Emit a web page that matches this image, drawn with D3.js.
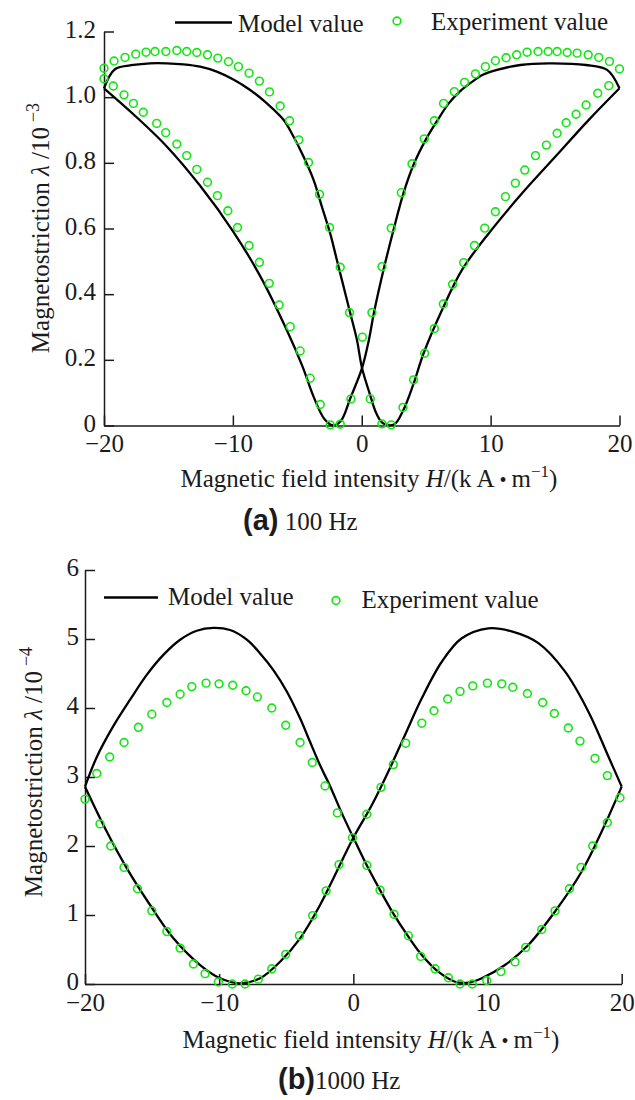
<!DOCTYPE html>
<html>
<head>
<meta charset="utf-8">
<script src="https://cdn.jsdelivr.net/npm/d3@7"></script>
<style>
  html, body { margin: 0; padding: 0; background: #fff; }
  svg { display: block; }
</style>
</head>
<body>
<svg id="fig" width="635" height="1100"></svg>
<script>
// ---------------- data ----------------
const hTicks = [-20, -10, 0, 10, 20];
const aLambdaTicks = [0, 0.2, 0.4, 0.6, 0.8, 1.0, 1.2];
const bLambdaTicks = [0, 1, 2, 3, 4, 5, 6];

// (a) 100 Hz, model: branch traced while H increases
const aModelRiseH = [-20, -17.72, -15.13, -12.54, -9.96, -7.88, -5.81, -4.6, -3.74, -2.9, -2.2, -1.6, -0.89, 0.02, 0.55, 0.95, 1.75, 2.5, 3.25, 4.05, 5.0, 5.85, 6.75, 7.6, 8.5, 9.4, 10.5, 12.3, 14.5, 17.4, 19.04, 20];
const aModelRiseL = [1.027, 0.948, 0.85, 0.73, 0.59, 0.455, 0.29, 0.18, 0.088, 0.02, 0.0, 0.015, 0.083, 0.175, 0.26, 0.344, 0.484, 0.601, 0.709, 0.797, 0.873, 0.928, 0.981, 1.017, 1.045, 1.068, 1.083, 1.098, 1.103, 1.098, 1.083, 1.027];
// (a) 100 Hz, model: branch traced while H decreases
const aModelFallH = [20, 17.6, 15.03, 12.44, 9.85, 7.78, 6.23, 4.8, 4.0, 3.2, 2.5, 1.65, 1.13, 0.61, 0.02, -0.37, -0.89, -1.41, -1.93, -2.45, -3.09, -3.74, -4.52, -5.3, -6.07, -7.36, -8.66, -9.96, -11.25, -12.54, -13.84, -15.13, -16.43, -17.72, -19.15, -20];
const aModelFallL = [1.027, 0.93, 0.819, 0.707, 0.585, 0.474, 0.352, 0.22, 0.125, 0.045, 0.003, 0.007, 0.037, 0.098, 0.175, 0.26, 0.342, 0.423, 0.504, 0.585, 0.666, 0.748, 0.819, 0.88, 0.931, 0.981, 1.022, 1.054, 1.078, 1.093, 1.1, 1.103, 1.103, 1.098, 1.085, 1.027];

// (a) 100 Hz, measurements
const aExpRiseH = [-20, -19.28, -18.45, -17.72, -16.95, -15.91, -15.21, -14.35, -13.58, -12.8, -11.97, -11.2, -10.39, -9.64, -8.74, -7.94, -7.18, -6.41, -5.55, -4.78, -4.0, -3.22, -2.45, -1.67, -0.84, 0.05, 0.79, 1.57, 2.29, 3.07, 3.9, 4.85, 5.63, 6.35, 7.18, 7.98, 8.82, 9.59, 10.37, 11.2, 12.02, 12.83, 13.68, 14.46, 15.16, 15.94, 16.71, 17.57, 18.39, 19.22, 20];
const aExpRiseL = [1.056, 1.034, 1.007, 0.981, 0.954, 0.92, 0.892, 0.857, 0.822, 0.78, 0.741, 0.7, 0.654, 0.603, 0.548, 0.497, 0.433, 0.367, 0.301, 0.227, 0.144, 0.064, 0.002, 0.004, 0.081, 0.269, 0.344, 0.484, 0.601, 0.709, 0.797, 0.873, 0.928, 0.981, 1.017, 1.045, 1.071, 1.093, 1.111, 1.12, 1.129, 1.137, 1.139, 1.139, 1.139, 1.136, 1.134, 1.129, 1.121, 1.109, 1.086];
const aExpFallH = [19.17, 18.31, 17.41, 16.63, 15.86, 15.16, 14.33, 13.48, 12.65, 11.92, 11.15, 10.37, 9.54, 8.74, 7.91, 7.05, 6.33, 5.63, 4.88, 4.02, 3.2, 2.29, 1.57, 0.66, -0.95, -1.67, -2.5, -3.28, -4.13, -4.88, -5.6, -6.33, -7.16, -7.94, -8.74, -9.57, -10.34, -11.17, -11.97, -12.8, -13.58, -14.35, -15.2, -16.04, -16.74, -17.54, -18.37, -19.22, -20];
const aExpFallL = [1.035, 1.012, 0.976, 0.948, 0.922, 0.89, 0.854, 0.822, 0.778, 0.738, 0.697, 0.651, 0.601, 0.548, 0.496, 0.43, 0.37, 0.295, 0.22, 0.139, 0.055, 0.002, 0.005, 0.081, 0.344, 0.482, 0.603, 0.704, 0.801, 0.87, 0.928, 0.973, 1.016, 1.049, 1.073, 1.093, 1.108, 1.119, 1.129, 1.136, 1.139, 1.142, 1.139, 1.139, 1.137, 1.131, 1.121, 1.11, 1.088];

// (b) 1000 Hz, model: branch traced while H increases
const bModelRiseH = [-20, -19.12, -17.88, -16.64, -15.4, -14.16, -12.91, -11.67, -10.43, -9.19, -7.94, -6.9, -5.96, -4.96, -3.97, -3.23, -2.48, -1.74, -0.87, 0, 1.0, 1.99, 2.98, 4.1, 5.1, 6.33, 7.58, 8.57, 9.57, 11.3, 13.04, 15.03, 17.02, 18.51, 20];
const bModelRiseL = [2.86, 3.29, 3.74, 4.12, 4.48, 4.77, 4.99, 5.12, 5.16, 5.13, 4.99, 4.78, 4.55, 4.24, 3.85, 3.51, 3.17, 2.87, 2.48, 2.12, 1.72, 1.36, 1.02, 0.686, 0.42, 0.178, 0.033, 0.02, 0.083, 0.275, 0.565, 1.05, 1.63, 2.21, 2.86];
// (b) 1000 Hz, model: branch traced while H decreases
const bModelFallH = [20, 19.0, 17.51, 15.77, 13.79, 11.8, 10.06, 8.08, 6.59, 5.1, 3.85, 2.61, 1.37, 0, -1.49, -2.48, -3.97, -5.46, -6.95, -8.44, -9.93, -11.42, -13.41, -15.15, -16.89, -18.38, -20];
const bModelFallL = [2.86, 3.3, 3.95, 4.53, 4.94, 5.11, 5.155, 5.01, 4.67, 4.14, 3.61, 3.08, 2.59, 2.12, 1.53, 1.145, 0.662, 0.323, 0.083, 0.01, 0.083, 0.275, 0.662, 1.145, 1.68, 2.21, 2.86];

// (b) 1000 Hz, measurements
const bExpRiseH = [-19.12, -18.16, -17.09, -16.02, -15.02, -13.9, -12.91, -12.04, -10.98, -10.01, -8.99, -8.0, -7.15, -6.08, -5.04, -3.97, -3.06, -2.11, -1.19, -0.07, 1.0, 1.99, 3.03, 4.1, 5.02, 6.09, 7.08, 7.95, 8.87, 9.94, 11.0, 12.05, 12.85, 14.04, 15.03, 16.1, 16.97, 17.84, 18.93, 19.87];
const bExpRiseL = [3.05, 3.29, 3.5, 3.72, 3.91, 4.08, 4.2, 4.31, 4.36, 4.35, 4.33, 4.25, 4.16, 4.0, 3.75, 3.5, 3.21, 2.87, 2.48, 2.12, 1.72, 1.36, 1.01, 0.7, 0.4, 0.22, 0.09, 0.0, 0.0, 0.05, 0.18, 0.32, 0.53, 0.79, 1.06, 1.38, 1.69, 2.0, 2.34, 2.7];
const bExpFallH = [18.93, 18.01, 16.89, 16.02, 14.98, 14.11, 12.97, 11.88, 11.06, 9.99, 8.9, 7.95, 7.03, 6.01, 5.1, 3.9, 2.98, 2.06, 1.0, -1.07, -2.03, -3.03, -4.02, -5.04, -6.08, -7.08, -8.07, -9.02, -10.06, -11.05, -11.92, -12.91, -13.9, -15.02, -16.09, -17.09, -18.08, -18.88, -20];
const bExpFallL = [3.02, 3.27, 3.52, 3.71, 3.92, 4.08, 4.21, 4.3, 4.35, 4.36, 4.32, 4.24, 4.13, 3.96, 3.78, 3.49, 3.18, 2.85, 2.46, 1.73, 1.35, 0.99, 0.7, 0.43, 0.22, 0.07, 0.0, 0.0, 0.03, 0.15, 0.29, 0.52, 0.76, 1.06, 1.38, 1.69, 2.0, 2.32, 2.68];

// ---------------- drawing ----------------
const SERIF = "'Liberation Serif', 'Times New Roman', Times, serif";
const SANS = "'Liberation Sans', Arial, Helvetica, sans-serif";
const INK = "#1b1b1b";
const GREEN = "#14e614";

const svg = d3.select("#fig");
svg.append("rect").attr("width", 635).attr("height", 1100).attr("fill", "#fff");

const zip = (h, l) => h.map((v, i) => [v, l[i]]);
const fmtH = d => (d < 0 ? "\u2212" + Math.abs(d) : String(d));

function panel(o) {
  const g = svg.append("g");
  const x = o.x, y = o.y;

  // axes: left and bottom only, ticks pointing into the plot
  const gx = g.append("g")
    .attr("transform", `translate(0,${y(0)})`)
    .call(d3.axisBottom(x).tickValues(hTicks).tickFormat(fmtH)
      .tickSizeInner(-10).tickSizeOuter(0).tickPadding(9));
  const gy = g.append("g")
    .attr("transform", `translate(${x(-20)},0)`)
    .call(d3.axisLeft(y).tickValues(o.yTicks).tickFormat(o.yFmt)
      .tickSizeInner(-10).tickSizeOuter(0).tickPadding(o.yPad));
  [gx, gy].forEach(a => {
    a.attr("font-family", SERIF).attr("font-size", 25);
    a.selectAll("path, line").attr("stroke", INK).attr("stroke-width", 1.5);
    a.selectAll("text").attr("fill", INK);
  });
  gy.selectAll("text").attr("dy", "0.22em");

  // model curves
  const line = d3.line()
    .x(d => x(d[0])).y(d => y(d[1]))
    .curve(d3.curveCatmullRom.alpha(0.5));
  o.model.forEach(br => {
    g.append("path").attr("d", line(br))
      .attr("fill", "none").attr("stroke", "#000")
      .attr("stroke-width", 2.3).attr("stroke-linejoin", "round");
  });

  // measured points
  g.append("g").selectAll("circle")
    .data(o.exp.flat())
    .join("circle")
    .attr("cx", d => x(d[0])).attr("cy", d => y(d[1]))
    .attr("r", 3.9).attr("fill", "none")
    .attr("stroke", GREEN).attr("stroke-width", 1.6);

  // legend
  const L = o.legend;
  g.append("line").attr("x1", L.lineX0).attr("x2", L.lineX1)
    .attr("y1", L.lineY).attr("y2", L.lineY)
    .attr("stroke", "#000").attr("stroke-width", 2.3);
  g.append("text").attr("x", L.modelX).attr("y", L.modelY)
    .attr("font-family", SERIF).attr("font-size", 25).attr("fill", INK)
    .text("Model value");
  g.append("circle").attr("cx", L.dotX).attr("cy", L.dotY).attr("r", 3.9)
    .attr("fill", "none").attr("stroke", GREEN).attr("stroke-width", 1.6);
  g.append("text").attr("x", L.expX).attr("y", L.expY)
    .attr("font-family", SERIF).attr("font-size", 25).attr("fill", INK)
    .text("Experiment value");

  // y axis title
  const yl = g.append("text")
    .attr("transform", `translate(${o.yLab[0]},${o.yLab[1]}) rotate(-90)`)
    .attr("text-anchor", "middle")
    .attr("font-family", SERIF).attr("font-size", 25).attr("fill", INK);
  yl.append("tspan").text("Magnetostriction ");
  yl.append("tspan").attr("font-style", "italic").text("\u03bb");
  yl.append("tspan").text(" /10\u2009");
  yl.append("tspan").attr("font-size", "0.72em").attr("dy", "-0.55em").text("\u2212" + o.power);

  // x axis title
  const xl = g.append("text")
    .attr("x", o.xLab[0]).attr("y", o.xLab[1])
    .attr("text-anchor", "middle")
    .attr("font-family", SERIF).attr("font-size", 25).attr("fill", INK);
  xl.append("tspan").text("Magnetic field intensity ");
  xl.append("tspan").attr("font-style", "italic").text("H");
  xl.append("tspan").text("/(k\u2009A");
  xl.append("tspan").attr("font-size", "0.8em").text(" \u2022 ");
  xl.append("tspan").attr("font-size", 25).text("m");
  xl.append("tspan").attr("font-size", "0.68em").attr("dy", "-0.6em").text("\u22121");
  xl.append("tspan").attr("dy", "0.4em").text(")");

  // panel caption
  const cap = g.append("text")
    .attr("x", o.cap[0]).attr("y", o.cap[1])
    .attr("fill", INK);
  cap.append("tspan").attr("font-family", SANS).attr("font-weight", "bold")
    .attr("font-size", 29).text(o.capTag);
  cap.append("tspan").attr("font-family", SERIF).attr("font-size", 25).text(o.capText);
}

panel({
  x: d3.scaleLinear([-20, 20], [104, 619.5]),
  y: d3.scaleLinear([0, 1.2], [425.5, 31.5]),
  yTicks: aLambdaTicks,
  yFmt: d => (d === 0 ? "0" : d3.format(".1f")(d)),
  yPad: 8,
  model: [zip(aModelRiseH, aModelRiseL), zip(aModelFallH, aModelFallL)],
  exp: [zip(aExpRiseH, aExpRiseL), zip(aExpFallH, aExpFallL)],
  legend: { lineX0: 175, lineX1: 232, lineY: 22.5, modelX: 238, modelY: 31.5,
            dotX: 397, dotY: 21, expX: 431, expY: 30 },
  yLab: [49, 228],
  power: "3",
  xLab: [369, 487],
  cap: [243, 530],
  capTag: "(a)",
  capText: " 100 Hz"
});

panel({
  x: d3.scaleLinear([-20, 20], [85, 621.7]),
  y: d3.scaleLinear([0, 6], [984, 570]),
  yTicks: bLambdaTicks,
  yFmt: d => String(d),
  yPad: 6,
  model: [zip(bModelRiseH, bModelRiseL), zip(bModelFallH, bModelFallL)],
  exp: [zip(bExpRiseH, bExpRiseL), zip(bExpFallH, bExpFallL)],
  legend: { lineX0: 104, lineX1: 158, lineY: 597.5, modelX: 168, modelY: 605,
            dotX: 336, dotY: 600.5, expX: 361.5, expY: 607.5 },
  yLab: [41.5, 772],
  power: "4",
  xLab: [371, 1048],
  cap: [278, 1089],
  capTag: "(b)",
  capText: "1000 Hz"
});
</script>
</body>
</html>
